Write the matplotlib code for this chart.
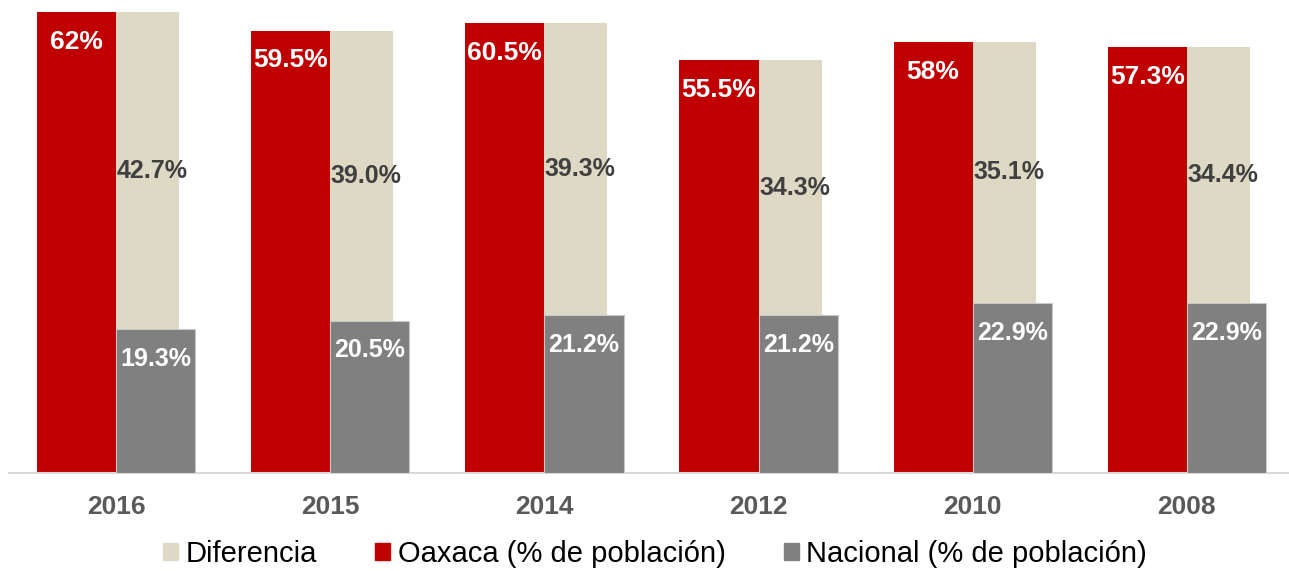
import matplotlib.pyplot as plt
from matplotlib.patches import Patch

plt.rcParams['font.family'] = ['Liberation Sans', 'DejaVu Sans']

years = ["2016", "2015", "2014", "2012", "2010", "2008"]
oaxaca = [62, 59.5, 60.5, 55.5, 58, 57.3]
nacional = [19.3, 20.5, 21.2, 21.2, 22.9, 22.9]
diferencia = [42.7, 39.0, 39.3, 34.3, 35.1, 34.4]

red = "#C00000"
beige = "#DDD9C4"
grey = "#808080"

fig = plt.figure(figsize=(12.89, 5.71), dpi=100)
ax = fig.add_axes([9 / 1289, 1 - 473 / 571, 1285 / 1289, 461 / 571])

x = list(range(len(years)))
w = 0.37
wb = 0.294

ax.bar([i - w for i in x], oaxaca, width=w, align="edge", color=red, zorder=2)
ax.bar(x, diferencia, width=wb, bottom=nacional, align="edge", color=beige, zorder=2)
ax.bar(x, nacional, width=w, align="edge", color=grey, edgecolor="#c8c8c8",
       linewidth=0.8, zorder=3)

for i in x:
    ax.annotate(f"{oaxaca[i]:g}%", (i - w / 2, oaxaca[i]), xytext=(0, -21.5),
                textcoords="offset points", ha="center", va="center",
                color="white", fontsize=19, fontweight="bold", zorder=5)
    ax.text(i + 0.168, nacional[i] + diferencia[i] / 2, f"{diferencia[i]:.1f}%",
            ha="center", va="center", color="#404040", fontsize=18,
            fontweight="bold", zorder=5)
    ax.annotate(f"{nacional[i]:.1f}%", (i + w / 2, nacional[i]), xytext=(0, -21.5),
                textcoords="offset points", ha="center", va="center",
                color="white", fontsize=18, fontweight="bold", zorder=5)

ax.set_xlim(-0.5, len(years) - 0.5)
ax.set_ylim(0, 62)
ax.set_xticks(x)
ax.set_xticklabels(years, fontsize=19, fontweight="bold", color="#595959")
ax.tick_params(axis="x", length=0, pad=16)
ax.set_yticks([])
for s in ["top", "right", "left"]:
    ax.spines[s].set_visible(False)
ax.spines["bottom"].set_color("#d9d9d9")
ax.spines["bottom"].set_linewidth(1.5)

handles = [Patch(color=beige), Patch(color=red), Patch(color=grey)]
labels = ["Diferencia", "Oaxaca (% de población)", "Nacional (% de población)"]
fig.legend(handles, labels, loc="center", bbox_to_anchor=(655 / 1289, 1 - 554 / 571),
           ncol=3, frameon=False, fontsize=21, handlelength=0.52, handleheight=0.52,
           handletextpad=0.25, columnspacing=2.0, borderpad=0)

fig.savefig("out.png", dpi=100)
